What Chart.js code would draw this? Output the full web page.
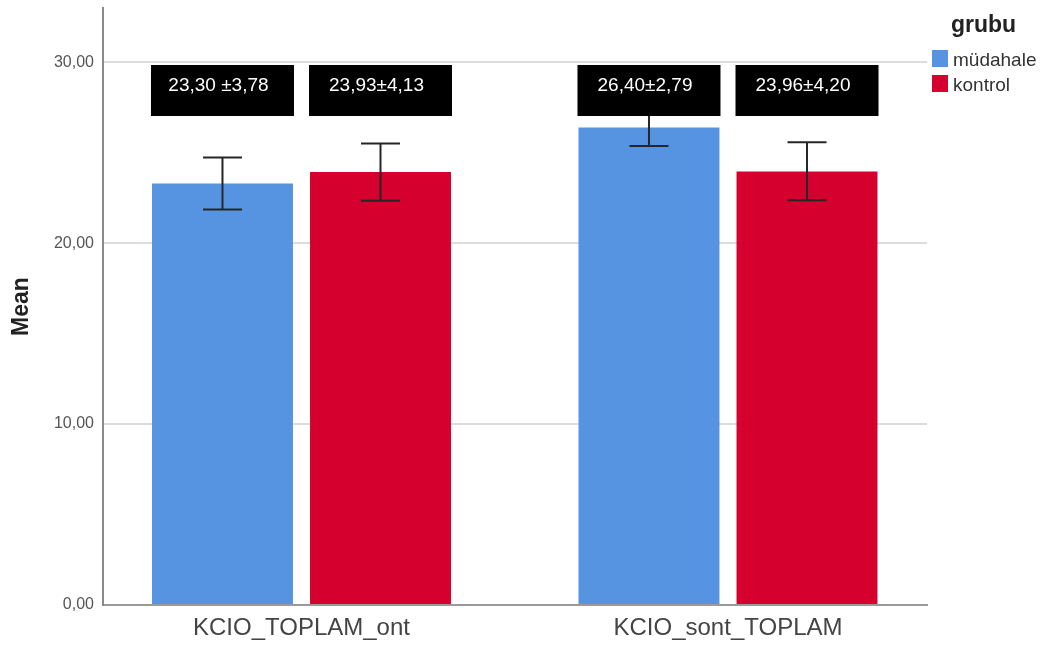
<!DOCTYPE html>
<html><head><meta charset="utf-8">
<script src="https://cdn.jsdelivr.net/npm/chart.js@4.4.0/dist/chart.umd.min.js"></script>
<style>html,body{margin:0;padding:0;background:#fff}#wrap{width:1040px;height:646px;position:relative}</style>
</head><body><div id="wrap"><canvas id="c" width="1040" height="646"></canvas></div>
<script>
const categories = ['KCIO_TOPLAM_ont', 'KCIO_sont_TOPLAM'];
const categoryPositions = [1, 2];
const seriesNames = ['müdahale', 'kontrol'];
const mudahaleMeans = [23.30, 26.40];
const kontrolMeans = [23.93, 23.96];
const mudahaleLower = [21.86, 25.37];
const mudahaleUpper = [24.73, 27.43];
const kontrolLower = [22.34, 22.38];
const kontrolUpper = [25.51, 25.58];
const mudahaleLabels = ['23,30 ±3,78', '26,40±2,79'];
const kontrolLabels = ['23,93±4,13', '23,96±4,20'];
const yTickValues = [0, 10, 20, 30];
const yTickLabels = ['0,00', '10,00', '20,00', '30,00'];
const legendTitle = 'grubu';
const yTitle = 'Mean';

const BLUE = '#5694E2', RED = '#D5002E';
const FONT = "'Liberation Sans', Arial, sans-serif";
const labelTopValue = 29.85;

const overlay = {
  id: 'overlay',
  afterDatasetsDraw(chart) {
    const ctx = chart.ctx, ys = chart.scales.y;
    const lowers = [mudahaleLower, kontrolLower];
    const uppers = [mudahaleUpper, kontrolUpper];
    const texts = [mudahaleLabels, kontrolLabels];
    ctx.save();
    chart.data.datasets.forEach((ds, di) => {
      chart.getDatasetMeta(di).data.forEach((bar, i) => {
        const x = bar.x;
        const yl = ys.getPixelForValue(lowers[di][i]);
        const yu = ys.getPixelForValue(uppers[di][i]);
        ctx.strokeStyle = '#262626';
        ctx.lineWidth = 2;
        ctx.beginPath();
        ctx.moveTo(x, yl); ctx.lineTo(x, yu);
        ctx.moveTo(x - 19.5, yl); ctx.lineTo(x + 19.5, yl);
        ctx.moveTo(x - 19.5, yu); ctx.lineTo(x + 19.5, yu);
        ctx.stroke();
      });
    });
    chart.data.datasets.forEach((ds, di) => {
      chart.getDatasetMeta(di).data.forEach((bar, i) => {
        const w = 143, h = 51;
        const top = ys.getPixelForValue(labelTopValue);
        ctx.fillStyle = '#000';
        ctx.fillRect(bar.x - w / 2, top, w, h);
        ctx.fillStyle = '#fff';
        ctx.font = '19px ' + FONT;
        ctx.textAlign = 'center';
        ctx.textBaseline = 'middle';
        ctx.fillText(texts[di][i], bar.x - 4, top + 21);
      });
    });
    ctx.restore();
  },
  afterDraw(chart) {
    const ctx = chart.ctx;
    ctx.save();
    ctx.fillStyle = '#222';
    ctx.font = 'bold 23px ' + FONT;
    ctx.textAlign = 'left';
    ctx.textBaseline = 'alphabetic';
    ctx.fillText(legendTitle, 951, 32);
    chart.data.datasets.forEach((ds, di) => {
      const yy = 50 + di * 25;
      ctx.fillStyle = ds.backgroundColor;
      ctx.fillRect(932, yy, 16, 17);
      ctx.fillStyle = '#333';
      ctx.font = '19px ' + FONT;
      ctx.fillText(ds.label, 953, yy + 16);
    });
    ctx.restore();
  }
};

new Chart(document.getElementById('c'), {
  type: 'bar',
  data: {
    datasets: [
      { label: seriesNames[0], backgroundColor: BLUE, data: categoryPositions.map((x, i) => ({ x, y: mudahaleMeans[i] })) },
      { label: seriesNames[1], backgroundColor: RED, data: categoryPositions.map((x, i) => ({ x, y: kontrolMeans[i] })) }
    ]
  },
  options: {
    responsive: false,
    animation: false,
    devicePixelRatio: 1,
    layout: { padding: { left: 0, right: 113, top: 8, bottom: 0 } },
    datasets: { bar: { categoryPercentage: 0.741, barPercentage: 0.892 } },
    plugins: { legend: { display: false }, tooltip: { enabled: false } },
    scales: {
      x: {
        type: 'linear',
        min: 0.5346,
        max: 2.4666,
        offset: false,
        afterBuildTicks: s => { s.ticks = categoryPositions.map(v => ({ value: v })); },
        afterFit: s => { s.height = 41; s.paddingLeft = 0; s.paddingRight = 0; },
        grid: { display: false, drawTicks: false },
        border: { display: true, color: '#9a9a9a', width: 2 },
        ticks: {
          autoSkip: false, maxRotation: 0, padding: 9,
          color: '#444', font: { family: FONT, size: 24 },
          callback: v => categories[categoryPositions.indexOf(v)]
        }
      },
      y: {
        min: 0,
        max: 33,
        afterBuildTicks: s => { s.ticks = yTickValues.map(v => ({ value: v })); },
        afterFit: s => { s.width = 103; s.paddingTop = 0; s.paddingBottom = 0; },
        grid: { color: c => (c.tick && c.tick.value === 0) ? 'rgba(0,0,0,0)' : '#dcdcdc', lineWidth: 2, drawTicks: false },
        border: { display: true, color: '#8a8a8a', width: 2 },
        ticks: {
          padding: 9, color: '#555', font: { family: FONT, size: 16 },
          callback: v => yTickLabels[yTickValues.indexOf(v)]
        },
        title: { display: true, text: yTitle, color: '#222', font: { family: FONT, size: 23, weight: 'bold' }, padding: { top: 8, bottom: 0 } }
      }
    }
  },
  plugins: [overlay]
});
</script>
</body></html>
